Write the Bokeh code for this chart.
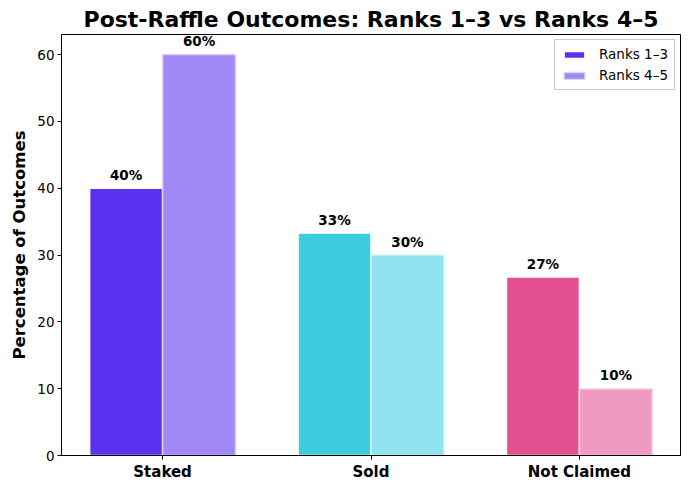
from bokeh.plotting import figure
from bokeh.models import ColumnDataSource, FixedTicker, Legend, LegendItem, Range1d
from bokeh.embed import file_html
from bokeh.resources import INLINE
from bokeh.core.properties import value

categories = ["Staked", "Sold", "Not Claimed"]
ranks_1_3 = [40.0, 33.3, 26.7]
ranks_4_5 = [60.0, 30.0, 10.0]
labels_1_3 = ["40%", "33%", "27%"]
labels_4_5 = ["60%", "30%", "10%"]
colors_1_3 = ["#5b30ee", "#3ccde0", "#e25092"]
colors_4_5 = ["#a089f4", "#8fe3ee", "#ef9ac0"]
edges_4_5 = ["#dcd3fb", "#d6f5f9", "#f9dbe8"]

width = 0.35
xs = list(range(len(categories)))
src1 = ColumnDataSource(dict(x=[i - width / 2 for i in xs], top=ranks_1_3, color=colors_1_3,
                             label=labels_1_3, ly=[v + 0.8 for v in ranks_1_3]))
src2 = ColumnDataSource(dict(x=[i + width / 2 for i in xs], top=ranks_4_5, color=colors_4_5,
                             edge=edges_4_5, label=labels_4_5, ly=[v + 0.8 for v in ranks_4_5]))

p = figure(width=690, height=490, output_backend="svg", toolbar_location=None,
           x_range=Range1d(-0.485, 2.485), y_range=Range1d(0, 63),
           min_border_left=61, min_border_right=10, min_border_top=34, min_border_bottom=35)
p.title.text = "Post-Raffle Outcomes: Ranks 1\u20133 vs Ranks 4\u20135"
p.title.align = "center"
p.title.text_font = "DejaVu Sans"
p.title.text_font_size = "22px"
p.title.text_font_style = "bold"
p.title.text_color = "black"
p.title.standoff = 6

r1 = p.vbar(x="x", top="top", width=width, bottom=0, source=src1, fill_color="color",
            line_color="white", line_width=1.5)
r2 = p.vbar(x="x", top="top", width=width, bottom=0, source=src2, fill_color="color",
            line_color="edge", line_width=1.5)

p.text(x="x", y="ly", text="label", source=src1, text_align="center", text_baseline="bottom",
       text_font=value("DejaVu Sans"), text_font_size="13.5px", text_font_style="bold", text_color="black")
p.text(x="x", y="ly", text="label", source=src2, text_align="center", text_baseline="bottom",
       text_font=value("DejaVu Sans"), text_font_size="13.5px", text_font_style="bold", text_color="black")

p.xaxis.ticker = FixedTicker(ticks=xs)
p.xaxis.major_label_overrides = {i: c for i, c in enumerate(categories)}
p.xaxis.major_label_text_font = "DejaVu Sans"
p.xaxis.major_label_text_font_size = "15px"
p.xaxis.major_label_text_font_style = "bold"
p.xaxis.major_label_text_color = "black"
p.xaxis.major_label_standoff = 3
p.xaxis.minor_tick_line_color = None

p.yaxis.ticker = FixedTicker(ticks=[0, 10, 20, 30, 40, 50, 60])
p.yaxis.axis_label = "Percentage of Outcomes"
p.yaxis.axis_label_text_font = "DejaVu Sans"
p.yaxis.axis_label_text_font_size = "16.5px"
p.yaxis.axis_label_text_font_style = "bold"
p.yaxis.axis_label_text_color = "black"
p.yaxis.major_label_text_font = "DejaVu Sans"
p.yaxis.major_label_text_font_size = "13.5px"
p.yaxis.major_label_text_color = "black"
p.yaxis.major_label_standoff = 3
p.yaxis.minor_tick_line_color = None

for ax in (p.xaxis, p.yaxis):
    ax.axis_line_color = "black"
    ax.major_tick_line_color = "black"
    ax.major_tick_in = 0
    ax.major_tick_out = 4

p.xgrid.visible = False
p.ygrid.visible = False
p.outline_line_color = "black"
p.outline_line_width = 1
p.outline_line_alpha = 1

legend = Legend(items=[LegendItem(label="Ranks 1\u20133", renderers=[r1], index=0),
                       LegendItem(label="Ranks 4\u20135", renderers=[r2], index=0)],
                location="top_right", label_text_font="DejaVu Sans", label_text_font_size="13.5px",
                label_text_color="black", label_height=16,
                border_line_color="#cccccc", border_line_width=1, border_line_alpha=1,
                glyph_width=26, glyph_height=9,
                spacing=5, padding=6, margin=5, label_standoff=12)
p.add_layout(legend)

open("out.html", "w").write(file_html(p, INLINE))
